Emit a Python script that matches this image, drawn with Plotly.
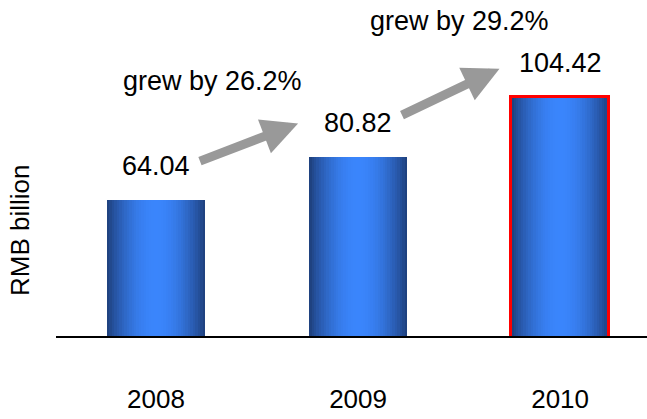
import math
import plotly.graph_objects as go

# Revenue by year, RMB billion
years = ["2008", "2009", "2010"]
revenue = [64.04, 80.82, 104.42]

x_pos = list(range(len(years)))
BAR_W = 0.485
N_SLICES = 40
FONT = "Liberation Sans, Arial, sans-serif"

dark = (29, 61, 120)
bright = (58, 133, 252)


def shade(t):
    # horizontal cylinder-like shading: dark at both edges, bright in the middle
    k = math.sin(math.pi * t) ** 0.85
    r, g, b = (int(round(d + (c - d) * k)) for d, c in zip(dark, bright))
    return f"rgb({r},{g},{b})"


fig = go.Figure()

# each bar is built from thin vertical slices to get the gradient fill
for i in range(N_SLICES):
    t = (i + 0.5) / N_SLICES
    fig.add_trace(go.Bar(
        x=x_pos, y=revenue,
        width=[BAR_W / N_SLICES * 1.02] * len(years),
        offset=[-BAR_W / 2 + i * BAR_W / N_SLICES] * len(years),
        marker=dict(color=shade(t), line=dict(width=0)),
        hoverinfo="skip", showlegend=False,
    ))

# red frame around the latest year
fig.add_trace(go.Bar(
    x=[x_pos[-1]], y=[revenue[-1]], width=[BAR_W],
    marker=dict(color="rgba(0,0,0,0)", line=dict(color="#ff0000", width=3)),
    hoverinfo="skip", showlegend=False,
))

annotations = []
# value labels above the bars
for xp, v in zip(x_pos, revenue):
    annotations.append(dict(
        x=xp, y=v, xref="x", yref="y", text=f"{v:.2f}", showarrow=False,
        yanchor="bottom", yshift=17, font=dict(family=FONT, size=27, color="#000"),
    ))

# growth arrows and captions between consecutive years
arrow_geo = [
    # (tail dx, tail y, head dx, head y, caption dx, caption y)
    (0.21, 79.0, 0.703, 94.0, 0.28, 110.5),
    (0.21, 97.0, 0.70, 115.5, 0.50, 134.0),
]
for k, (tx, ty, hx, hy, cx, cy) in enumerate(arrow_geo):
    growth = (revenue[k + 1] / revenue[k] - 1) * 100
    annotations.append(dict(
        x=x_pos[k] + hx, y=hy, ax=x_pos[k] + tx, ay=ty,
        xref="x", yref="y", axref="x", ayref="y", text="",
        showarrow=True, arrowhead=2, arrowsize=0.8, arrowwidth=9,
        arrowcolor="#999999", standoff=0,
    ))
    annotations.append(dict(
        x=x_pos[k] + cx, y=cy, xref="x", yref="y",
        text=f"grew by {growth:.1f}%", showarrow=False,
        font=dict(family=FONT, size=27, color="#000"),
    ))

annotations.append(dict(
    x=(20 - 56) / 591, y=(336 - 230) / 336, xref="paper", yref="paper",
    xanchor="center", yanchor="middle",
    text="RMB billion", textangle=-90, showarrow=False,
    font=dict(family=FONT, size=26, color="#000"),
))

fig.update_layout(
    width=647, height=419,
    margin=dict(l=56, r=0, t=0, b=83),
    paper_bgcolor="white", plot_bgcolor="white",
    barmode="overlay", bargap=0,
    annotations=annotations,
    xaxis=dict(
        range=[-0.495, 2.43], tickvals=x_pos, ticktext=years,
        showline=True, linecolor="#000", linewidth=2,
        showgrid=False, zeroline=False, ticks="",
        ticklabelstandoff=39,
        tickfont=dict(family=FONT, size=26, color="#000"),
    ),
    yaxis=dict(range=[10.7, 142.4], visible=False),
)

fig.write_html("out.html")
